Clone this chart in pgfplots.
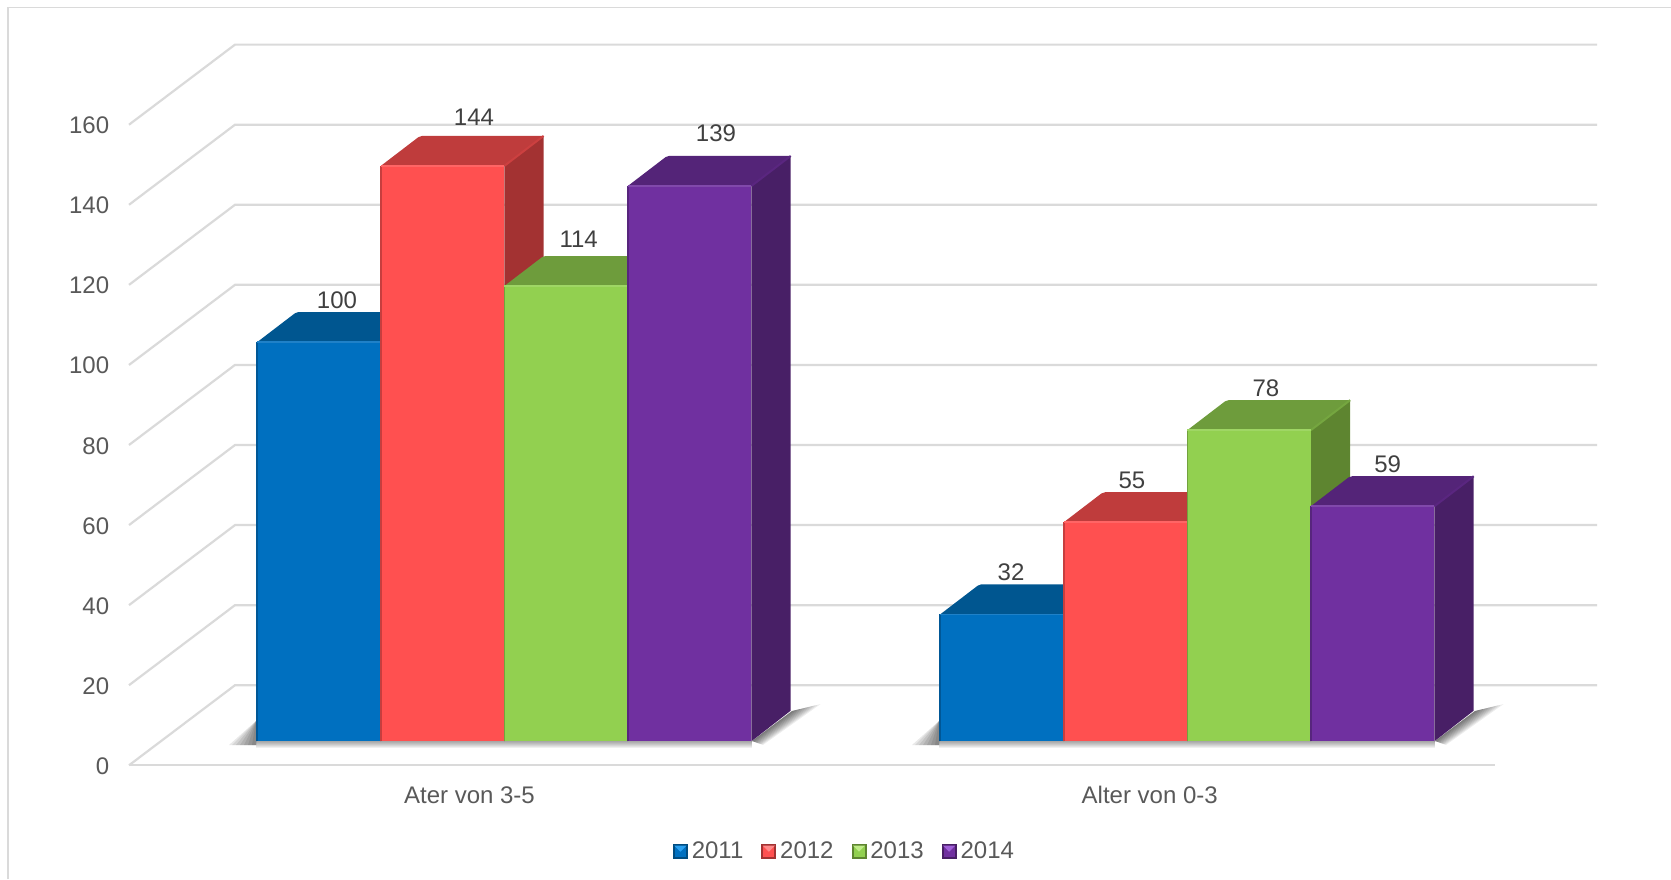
\documentclass[border=0pt]{standalone}
\usepackage{fontspec}
\setmainfont{Liberation Sans}
\usepackage{pgfplots}
\pgfplotsset{compat=1.18}
\definecolor{gridc}{HTML}{DADADA}
\definecolor{tickc}{HTML}{595959}
\definecolor{lblc}{HTML}{404040}
\definecolor{bF}{HTML}{0070C0}\definecolor{bT}{HTML}{005690}\definecolor{bS}{HTML}{004C80}\definecolor{bL}{HTML}{2AA0F0}
\definecolor{rF}{HTML}{FF5050}\definecolor{rT}{HTML}{BF3C3C}\definecolor{rS}{HTML}{A33232}\definecolor{rL}{HTML}{FF8A8A}
\definecolor{gF}{HTML}{92D050}\definecolor{gT}{HTML}{6E9C3C}\definecolor{gS}{HTML}{5E8530}\definecolor{gL}{HTML}{C0EC88}
\definecolor{pF}{HTML}{7030A0}\definecolor{pT}{HTML}{542478}\definecolor{pS}{HTML}{481F66}\definecolor{pL}{HTML}{A060D8}
\newcommand\lab{\fontsize{12}{14}\selectfont}
% one oblique bar: category, place in group, value, colours
\newcommand\TDbar[6]{%
  \pgfmathsetmacro\xa{#1+0.0495+(#2-2)*0.1809}%
  \pgfmathsetmacro\xb{\xa+0.1809}%
  \pgfmathsetmacro\xc{\xa+0.0575}%
  \pgfmathsetmacro\xd{\xb+0.0575}%
  \pgfmathsetmacro\yt{#3+5.7}%
  \pgfmathsetmacro\yu{#3+13.2}%
  \addplot[forget plot,fill=#6,draw=none] coordinates {(\xb,6) (\xd,13.64) (\xd,\yu) (\xb,\yt)};
  \addplot[forget plot,fill=#5,draw=none,rounded corners=1pt] coordinates {(\xa,\yt) (\xc,\yu) (\xd,\yu) (\xb,\yt)};
  \addplot[forget plot,draw=#5!80!#4,line width=1pt] coordinates {(\xb,\yt) (\xd,\yu)};
  \addplot[forget plot,fill=#4,draw=none] coordinates {(\xa,6) (\xb,6) (\xb,\yt) (\xa,\yt)};
  \addplot[forget plot,draw=#4!78!black,line width=0.8pt] coordinates {(\xa,6) (\xa,\yt)};
  \addplot[forget plot,draw=#4!88!white,line width=0.8pt] coordinates {(\xa,\yt) (\xb,\yt)};
}
\newcommand\leg[3]{\addlegendimage{legend image code/.code={
  \fill[#1] (0pt,-3.5pt) rectangle (7pt,3.5pt);
  \fill[#2] (1pt,-2.5pt) rectangle (6pt,2.5pt);
  \fill[#3] (1pt,2.5pt) -- (6pt,2.5pt) -- (3.5pt,0pt) -- cycle;
}}}
\newcommand\shadowset[1]{%
  \foreach \a in {3,6,9,12,15,18,21,24,27,30}{\fill[black,opacity=.07] (#1,741) -- (#1+40,711) -- (#1+40+\a*.95,711-\a*.23) -- (#1+\a*.37,741+\a*.13) -- cycle;}
}
\newcommand\shadowleft[1]{%
  \foreach \a in {4,8,12,16,20,24,27}{\fill[black,opacity=.085] (#1,745) -- (#1,721) -- (#1-\a,745) -- cycle;}
}
\newcommand\shadowbot[2]{%
  \foreach \a in {1,2,3,4,5,6,7}{\fill[black,opacity=.06] (#1,741) rectangle (#2,741+\a);}
}
\begin{document}
\begin{tikzpicture}
\useasboundingbox (0,0) rectangle (835.5pt,439.5pt);
\begin{scope}[x=0.5pt,y=-0.5pt,yshift=439.5pt]
  \draw[gridc,line width=0.8pt] (7.9,879) -- (7.9,7.5) -- (1671,7.5);
  \shadowset{752}\shadowset{1435}
  \shadowleft{256}\shadowleft{939}
  \shadowbot{256}{752}\shadowbot{939}{1435}
\end{scope}
\begin{axis}[
  at={(64.5pt,56.85pt)},anchor=south west,
  scale only axis,width=683pt,height=320.3pt,
  xmin=-0.5,xmax=1.5,ymin=0,ymax=160,clip=false,
  axis line style={draw=none},major tick length=0pt,
  xtick={-0.0015,0.9945},xticklabels={Ater von 3-5,Alter von 0-3},
  ytick={0,20,40,60,80,100,120,140,160},
  /pgf/number format/assume math mode=true,
  tick label style={font=\lab,text=tickc},
  yticklabel style={xshift=-6.4pt,yshift=-0.4pt},
  xticklabel style={yshift=-7pt},
  legend style={at={(0.5245,-0.134)},anchor=center,draw=none,fill=none,font=\lab,text=tickc,
    inner sep=0pt,outer sep=0pt,/tikz/every even column/.append style={column sep=7pt}},
  legend columns=4,
]
% gridlines: back wall, side wall, floor
\pgfplotsinvokeforeach{0,20,40,60,80,100,120,140,160}{
  \addplot[forget plot,gridc,line width=1.1pt] coordinates {(-0.5,#1) (-0.3448,#1+20) (1.6494,#1+20)};
}
\addplot[forget plot,gridc,line width=1.1pt] coordinates {(-0.5,0) (1.5,0)};
% group 1
\TDbar{0}{0}{100}{bF}{bT}{bS}
\TDbar{0}{1}{144}{rF}{rT}{rS}
\TDbar{0}{2}{114}{gF}{gT}{gS}
\TDbar{0}{3}{139}{pF}{pT}{pS}
% group 2
\TDbar{1}{0}{32}{bF}{bT}{bS}
\TDbar{1}{1}{55}{rF}{rT}{rS}
\TDbar{1}{2}{78}{gF}{gT}{gS}
\TDbar{1}{3}{59}{pF}{pT}{pS}
% value labels
\node[font=\lab,text=lblc] at (axis cs:-0.1955,116.1) {100};
\node[font=\lab,text=lblc] at (axis cs:0.0051,161.9) {144};
\node[font=\lab,text=lblc] at (axis cs:0.1584,131.5) {114};
\node[font=\lab,text=lblc] at (axis cs:0.3594,157.9) {139};
\node[font=\lab,text=lblc] at (axis cs:0.7914,48.3) {32};
\node[font=\lab,text=lblc] at (axis cs:0.9685,71.1) {55};
\node[font=\lab,text=lblc] at (axis cs:1.1647,94.2) {78};
\node[font=\lab,text=lblc] at (axis cs:1.3428,75.1) {59};
\leg{bS}{bF}{bL}\addlegendentry{2011}
\leg{rS}{rF}{rL}\addlegendentry{2012}
\leg{gS}{gF}{gL}\addlegendentry{2013}
\leg{pS}{pF}{pL}\addlegendentry{2014}
\end{axis}
\end{tikzpicture}
\end{document}
